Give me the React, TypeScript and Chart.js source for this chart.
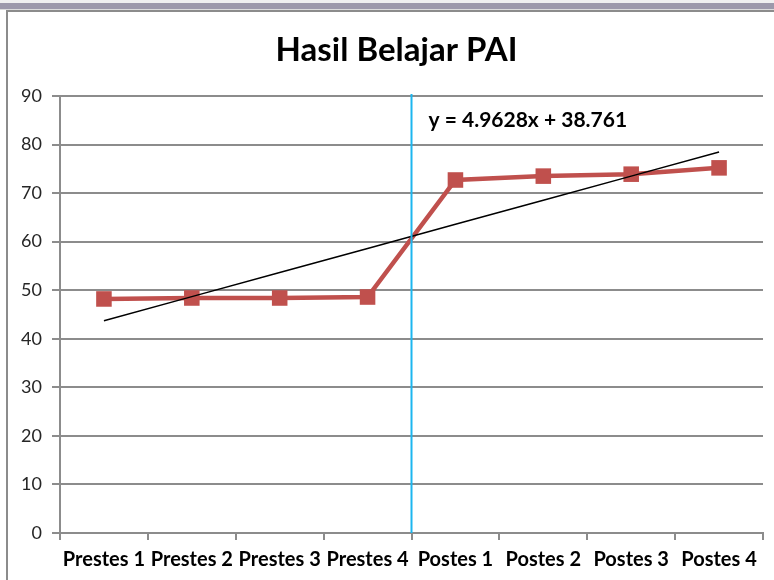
import React, { useEffect, useRef } from "react";
import { Chart, registerables } from "chart.js";

Chart.register(...registerables);

const CATEGORIES: string[] = [
  "Prestes 1",
  "Prestes 2",
  "Prestes 3",
  "Prestes 4",
  "Postes 1",
  "Postes 2",
  "Postes 3",
  "Postes 4",
];
const SCORES: number[] = [48.2, 48.4, 48.4, 48.6, 72.7, 73.5, 73.9, 75.2];
const TREND_SLOPE = 4.9628;
const TREND_INTERCEPT = 38.761;
const EQUATION_LABEL = "y = 4.9628x + 38.761";
const Y_MIN = 0;
const Y_MAX = 90;
const Y_STEP = 10;
const TITLE = "Hasil Belajar PAI";
const DIVIDER_AFTER_INDEX = 3; // blue divider between Prestes 4 and Postes 1

const FONT = "Lato, 'Open Sans', sans-serif";
const GRID = "#8c8c8c";

const overlayPlugin = {
  id: "overlay",
  afterDatasetsDraw(chart: any) {
    const { ctx, chartArea, scales } = chart;
    const xs = scales.x;
    const ys = scales.y;
    const xDiv = xs.getPixelForValue(DIVIDER_AFTER_INDEX + 0.5);
    ctx.save();
    ctx.strokeStyle = "#1cb6ef";
    ctx.lineWidth = 2;
    ctx.beginPath();
    ctx.moveTo(xDiv, chartArea.top - 2);
    ctx.lineTo(xDiv, chartArea.bottom);
    ctx.stroke();
    ctx.fillStyle = "#000";
    ctx.font = `bold 21px ${FONT}`;
    ctx.textBaseline = "middle";
    ctx.textAlign = "left";
    ctx.fillText(EQUATION_LABEL, xDiv + 17, ys.getPixelForValue(85));
    // chart title
    ctx.font = `bold 33px ${FONT}`;
    ctx.textAlign = "center";
    ctx.fillText(TITLE, (chartArea.left + chartArea.right) / 2 - 15, 50);
    ctx.restore();
  },
};

export default function App() {
  const ref = useRef<HTMLCanvasElement | null>(null);

  useEffect(() => {
    document.body.style.margin = "0";
    const canvas = ref.current;
    if (!canvas) return;
    const trend = CATEGORIES.map((_, i) => TREND_INTERCEPT + TREND_SLOPE * (i + 1));
    const chart = new Chart(canvas, {
      type: "line",
      data: {
        labels: CATEGORIES,
        datasets: [
          {
            label: "Nilai",
            data: SCORES,
            borderColor: "#c0504d",
            backgroundColor: "#c0504d",
            borderWidth: 4.5,
            pointStyle: "rect",
            pointRadius: 11,
            pointBorderWidth: 0,
            pointBackgroundColor: "#c0504d",
            tension: 0,
            order: 1,
          },
          {
            label: "Linear (Nilai)",
            data: trend,
            borderColor: "#000",
            borderWidth: 1.5,
            pointRadius: 0,
            tension: 0,
            order: 0,
          },
        ],
      },
      options: {
        animation: false,
        responsive: false,
        maintainAspectRatio: false,
        devicePixelRatio: 1,
        layout: { padding: { left: 6, right: 9, top: 96, bottom: 0 } },
        plugins: {
          legend: { display: false },
          tooltip: { enabled: false },
          title: { display: false },
        },
        scales: {
          x: {
            type: "category",
            offset: true,
            grid: {
              offset: true,
              drawOnChartArea: false,
              drawTicks: true,
              tickLength: 7,
              color: GRID,
              lineWidth: 2,
            },
            border: { display: true, color: GRID, width: 2 },
            ticks: {
              color: "#000",
              font: { family: FONT, size: 20, weight: "bold" },
              padding: 8,
              maxRotation: 0,
              autoSkip: false,
            },
            afterFit: (s: any) => {
              s.height = 47;
            },
          },
          y: {
            min: Y_MIN,
            max: Y_MAX,
            ticks: {
              stepSize: Y_STEP,
              color: "#262626",
              font: { family: FONT, size: 18 },
              padding: 10,
            },
            grid: { color: GRID, lineWidth: 2, tickLength: 8 },
            border: { display: true, color: GRID, width: 2 },
            afterFit: (s: any) => {
              s.width = 54;
            },
          },
        },
      },
      plugins: [overlayPlugin],
    });
    return () => chart.destroy();
  }, []);

  return (
    <div style={{ position: "relative", width: 774, height: 580, background: "#fff", overflow: "hidden" }}>
      <div style={{ position: "absolute", left: 0, top: 0, width: 774, height: 3, background: "#f0f0f0" }} />
      <div style={{ position: "absolute", left: 0, top: 3, width: 774, height: 6, background: "#9d99ab" }} />
      <div style={{ position: "absolute", left: 0, top: 9, width: 774, height: 1, background: "#dcdcdc" }} />
      <div
        style={{
          position: "absolute",
          left: 6,
          top: 10,
          width: 774,
          height: 580,
          borderLeft: "2px solid #8c8c8c",
          borderTop: "2px solid #8c8c8c",
        }}
      />
      <canvas ref={ref} width={774} height={580} style={{ position: "absolute", left: 0, top: 0, width: 774, height: 580 }} />
    </div>
  );
}
